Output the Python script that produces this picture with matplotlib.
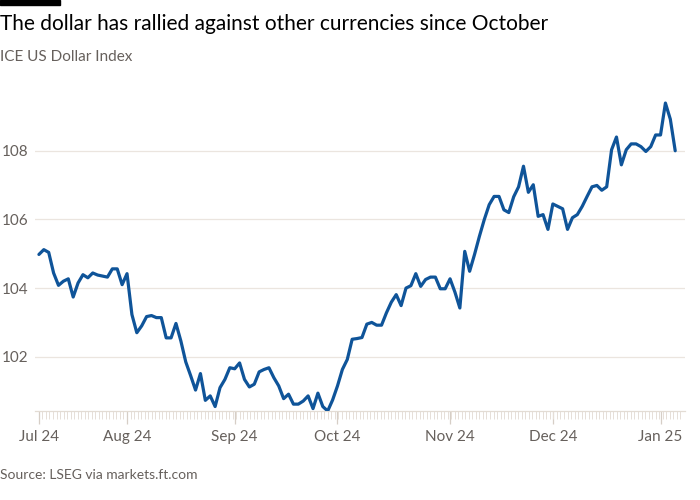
import matplotlib
matplotlib.use("Agg")
import matplotlib.pyplot as plt
import numpy as np
import pandas as pd

plt.rcParams['font.family'] = ['Lato', 'DejaVu Sans']

# ---- data ----
start_date = "2024-07-08"
end_date = "2025-01-06"
values = [
    104.98, 105.12, 105.04, 104.44, 104.08, 104.20, 104.27, 103.74, 104.15, 104.39,
    104.30, 104.44, 104.38, 104.35, 104.32, 104.56, 104.56, 104.10, 104.42, 103.23,
    102.70, 102.90, 103.17, 103.20, 103.14, 103.14, 102.55, 102.55, 102.97, 102.46,
    101.85, 101.45, 101.03, 101.51, 100.73, 100.86, 100.55, 101.10, 101.34, 101.68,
    101.65, 101.82, 101.34, 101.12, 101.20, 101.56, 101.63, 101.68, 101.39, 101.15,
    100.78, 100.91, 100.62, 100.62, 100.71, 100.86, 100.49, 100.94, 100.55, 100.42,
    100.74, 101.15, 101.63, 101.92, 102.51, 102.53, 102.56, 102.95, 103.00, 102.92,
    102.92, 103.28, 103.59, 103.81, 103.49, 104.00, 104.07, 104.42, 104.05, 104.25,
    104.32, 104.32, 103.98, 103.98, 104.27, 103.88, 103.42, 105.07, 104.49, 104.98,
    105.51, 106.00, 106.43, 106.67, 106.67, 106.28, 106.20, 106.66, 106.95, 107.55,
    106.79, 107.01, 106.09, 106.14, 105.71, 106.45, 106.38, 106.31, 105.71, 106.05,
    106.14, 106.38, 106.67, 106.95, 106.99, 106.85, 106.95, 108.03, 108.40, 107.59,
    108.03, 108.20, 108.20, 108.12, 107.98, 108.12, 108.46, 108.46, 109.39, 108.92,
    108.00,
]
yticks = [102, 104, 106, 108]
title = "The dollar has rallied against other currencies since October"
subtitle = "ICE US Dollar Index"
source = "Source: LSEG via markets.ft.com"

dates = pd.bdate_range(start_date, end_date)
n = len(values)
dates = dates[:n]
x = np.arange(n)

# month start positions (first trading day of each month)
month_key = dates.to_period("M")
first_idx = [0] + [i for i in range(1, n) if month_key[i] != month_key[i - 1]]
month_labels = [dates[i].strftime("%b %y") for i in first_idx]

# ---- figure ----
fig = plt.figure(figsize=(7, 5), dpi=100)
fig.patch.set_facecolor("white")
ax = fig.add_axes([35 / 700, 1 - 411 / 500, 650 / 700, 321 / 500])
ax.set_facecolor("white")

ax.plot(x, values, color="#0f5499", lw=2.3, solid_joinstyle="round", solid_capstyle="round", zorder=3)

ax.set_xlim(-0.8, 132.0)
ax.set_ylim(100.42, 109.77)

ax.set_yticks(yticks)
ax.set_yticklabels([str(t) for t in yticks])
ax.yaxis.grid(True, color="#ebe5df", lw=0.9)
ax.tick_params(axis="y", length=0, pad=5, labelsize=11, labelcolor="#66605c")

ax.set_xticks(first_idx)
ax.set_xticklabels(month_labels)
ax.set_xticks(np.arange(0, 131.5, 0.72), minor=True)
ax.tick_params(axis="x", which="major", length=9, width=0.9, color="#d6cec6",
               pad=5, labelsize=11, labelcolor="#66605c")
ax.tick_params(axis="x", which="minor", length=6, width=0.7, color="#e6dfd8")

for s in ["top", "right", "left"]:
    ax.spines[s].set_visible(False)
ax.spines["bottom"].set_color("#e3dcd4")
ax.spines["bottom"].set_linewidth(0.9)
ax.set_axisbelow(True)

# top-left black bar
fig.patches.append(plt.Rectangle((0, 1 - 5 / 500), 60 / 700, 5 / 500,
                                 transform=fig.transFigure, color="black", zorder=5))

fig.text(0.0, 1 - 24 / 500, title, fontsize=15, color="#000000", va="center", ha="left")
fig.text(0.0, 1 - 57 / 500, subtitle, fontsize=11, color="#66605c", va="center", ha="left")
fig.text(0.0, 1 - 475 / 500, source, fontsize=10, color="#66605c", va="center", ha="left")

fig.savefig("out.png", dpi=100, facecolor="white")
